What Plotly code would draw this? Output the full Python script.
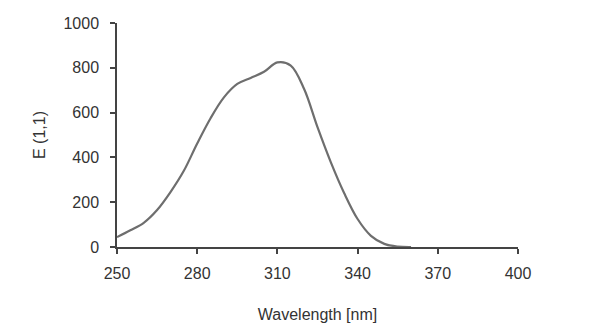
import plotly.graph_objects as go

wavelength = [250, 255, 260, 265, 270, 275, 280, 285, 290, 295, 300, 305, 310, 315, 320, 325, 330, 335, 340, 345, 350, 355, 360]
absorb = [44, 75, 108, 165, 245, 340, 462, 575, 668, 728, 755, 782, 824, 810, 705, 535, 378, 240, 125, 50, 14, 2, 0]

x_ticks = [250, 280, 310, 340, 370, 400]
y_ticks = [0, 200, 400, 600, 800, 1000]

fig = go.Figure()
fig.add_trace(go.Scatter(x=wavelength, y=absorb, mode="lines",
                         line=dict(color="#6e6e6e", width=2.2, shape="spline", smoothing=1.0),
                         showlegend=False, hoverinfo="skip"))

font_family = "Liberation Sans, Arial, sans-serif"
fig.update_layout(
    width=590, height=336,
    margin=dict(l=117, r=72, t=23, b=89),
    paper_bgcolor="white", plot_bgcolor="white",
    font=dict(family=font_family, size=16, color="#333333"),
    xaxis=dict(range=[250, 400], tickvals=x_ticks, showgrid=False, zeroline=False,
               showline=True, linecolor="#444444", linewidth=1.5,
               ticks="outside", ticklen=5, tickcolor="#444444", tickwidth=1.5,
               ticklabelstandoff=6,
               title=dict(text="Wavelength [nm]", standoff=28, font=dict(size=16))),
    yaxis=dict(range=[0, 1000], tickvals=y_ticks, showgrid=False, zeroline=False,
               showline=True, linecolor="#444444", linewidth=1.5,
               ticks="outside", ticklen=5, tickcolor="#444444", tickwidth=1.5,
               ticklabelstandoff=8,
               title=dict(text="E (1,1)", standoff=14, font=dict(size=16))),
)

fig.write_html("out.html")
